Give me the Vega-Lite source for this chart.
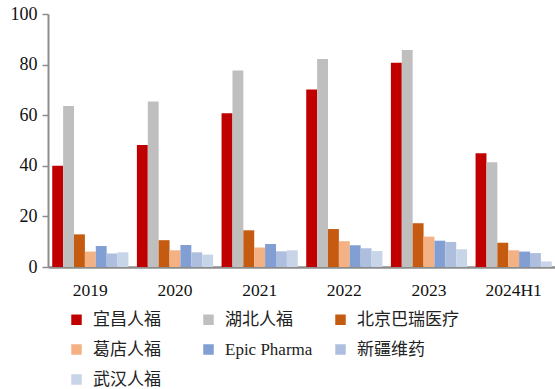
{
  "$schema": "https://vega.github.io/schema/vega-lite/v6.json",
  "autosize": "none",
  "width": 508,
  "height": 253,
  "padding": {"left": 48, "top": 14, "right": 0, "bottom": 122},
  "background": "white",
  "config": {
    "view": {"stroke": null},
    "font": "Liberation Serif",
    "axis": {"labelFont": "Liberation Serif", "labelColor": "#111111", "labelFontSize": 17.5, "domainColor": "#8c8c8c", "domainWidth": 2, "tickColor": "#8c8c8c", "tickWidth": 1.5, "grid": false, "title": null}
  },
  "data": {
    "values": [
      {"year": "2019", "company": "宜昌人福", "value": 40.0},
      {"year": "2019", "company": "湖北人福", "value": 63.6},
      {"year": "2019", "company": "北京巴瑞医疗", "value": 12.9},
      {"year": "2019", "company": "葛店人福", "value": 6.1},
      {"year": "2019", "company": "Epic Pharma", "value": 8.3},
      {"year": "2019", "company": "新疆维药", "value": 5.3},
      {"year": "2019", "company": "武汉人福", "value": 5.8},
      {"year": "2020", "company": "宜昌人福", "value": 48.2},
      {"year": "2020", "company": "湖北人福", "value": 65.4},
      {"year": "2020", "company": "北京巴瑞医疗", "value": 10.6},
      {"year": "2020", "company": "葛店人福", "value": 6.6},
      {"year": "2020", "company": "Epic Pharma", "value": 8.7},
      {"year": "2020", "company": "新疆维药", "value": 5.8},
      {"year": "2020", "company": "武汉人福", "value": 4.9},
      {"year": "2021", "company": "宜昌人福", "value": 60.8},
      {"year": "2021", "company": "湖北人福", "value": 77.7},
      {"year": "2021", "company": "北京巴瑞医疗", "value": 14.5},
      {"year": "2021", "company": "葛店人福", "value": 7.7},
      {"year": "2021", "company": "Epic Pharma", "value": 9.1},
      {"year": "2021", "company": "新疆维药", "value": 6.2},
      {"year": "2021", "company": "武汉人福", "value": 6.6},
      {"year": "2022", "company": "宜昌人福", "value": 70.2},
      {"year": "2022", "company": "湖北人福", "value": 82.2},
      {"year": "2022", "company": "北京巴瑞医疗", "value": 15.0},
      {"year": "2022", "company": "葛店人福", "value": 10.2},
      {"year": "2022", "company": "Epic Pharma", "value": 8.6},
      {"year": "2022", "company": "新疆维药", "value": 7.4},
      {"year": "2022", "company": "武汉人福", "value": 6.3},
      {"year": "2023", "company": "宜昌人福", "value": 80.7},
      {"year": "2023", "company": "湖北人福", "value": 85.8},
      {"year": "2023", "company": "北京巴瑞医疗", "value": 17.3},
      {"year": "2023", "company": "葛店人福", "value": 12.0},
      {"year": "2023", "company": "Epic Pharma", "value": 10.4},
      {"year": "2023", "company": "新疆维药", "value": 9.9},
      {"year": "2023", "company": "武汉人福", "value": 7.0},
      {"year": "2024H1", "company": "宜昌人福", "value": 45.0},
      {"year": "2024H1", "company": "湖北人福", "value": 41.4},
      {"year": "2024H1", "company": "北京巴瑞医疗", "value": 9.6},
      {"year": "2024H1", "company": "葛店人福", "value": 6.6},
      {"year": "2024H1", "company": "Epic Pharma", "value": 6.1},
      {"year": "2024H1", "company": "新疆维药", "value": 5.5},
      {"year": "2024H1", "company": "武汉人福", "value": 2.2}
    ]
  },
  "mark": {"type": "bar", "stroke": null},
  "encoding": {
    "x": {
      "field": "year", "type": "nominal", "sort": null,
      "scale": {"paddingInner": 0.1, "paddingOuter": 0.05},
      "axis": {"labelAngle": 0, "ticks": false, "labelPadding": 14, "domainWidth": 2.5, "labelFont": "Liberation Serif"}
    },
    "xOffset": {
      "field": "company", "type": "nominal",
      "sort": ["宜昌人福", "湖北人福", "北京巴瑞医疗", "葛店人福", "Epic Pharma", "新疆维药", "武汉人福"],
      "scale": {"paddingInner": 0, "paddingOuter": 0}
    },
    "y": {
      "field": "value", "type": "quantitative",
      "scale": {"domain": [0, 100]},
      "axis": {"values": [0, 20, 40, 60, 80, 100], "tickSize": 6, "labelPadding": 5, "domain": true, "labelFont": "Liberation Serif", "labelFontSize": 18}
    },
    "color": {
      "field": "company", "type": "nominal",
      "sort": ["宜昌人福", "湖北人福", "北京巴瑞医疗", "葛店人福", "Epic Pharma", "新疆维药", "武汉人福"],
      "scale": {
        "domain": ["宜昌人福", "湖北人福", "北京巴瑞医疗", "葛店人福", "Epic Pharma", "新疆维药", "武汉人福"],
        "range": ["#C00000", "#BFBFBF", "#C55A11", "#F4B183", "#819FD2", "#ADBEDF", "#C8D4E8"]
      },
      "legend": {
        "title": null,
        "orient": "none",
        "legendX": 20,
        "legendY": 297,
        "columns": 3,
        "gridAlign": "all",
        "direction": "horizontal",
        "symbolType": "square",
        "symbolSize": 110,
        "symbolStrokeWidth": 0,
        "labelFont": "Liberation Serif, Noto Sans CJK SC",
        "labelFontSize": 17,
        "labelColor": "#222222",
        "labelOffset": 8,
        "columnPadding": 5,
        "rowPadding": 12,
        "labelLimit": 200
      }
    }
  }
}
